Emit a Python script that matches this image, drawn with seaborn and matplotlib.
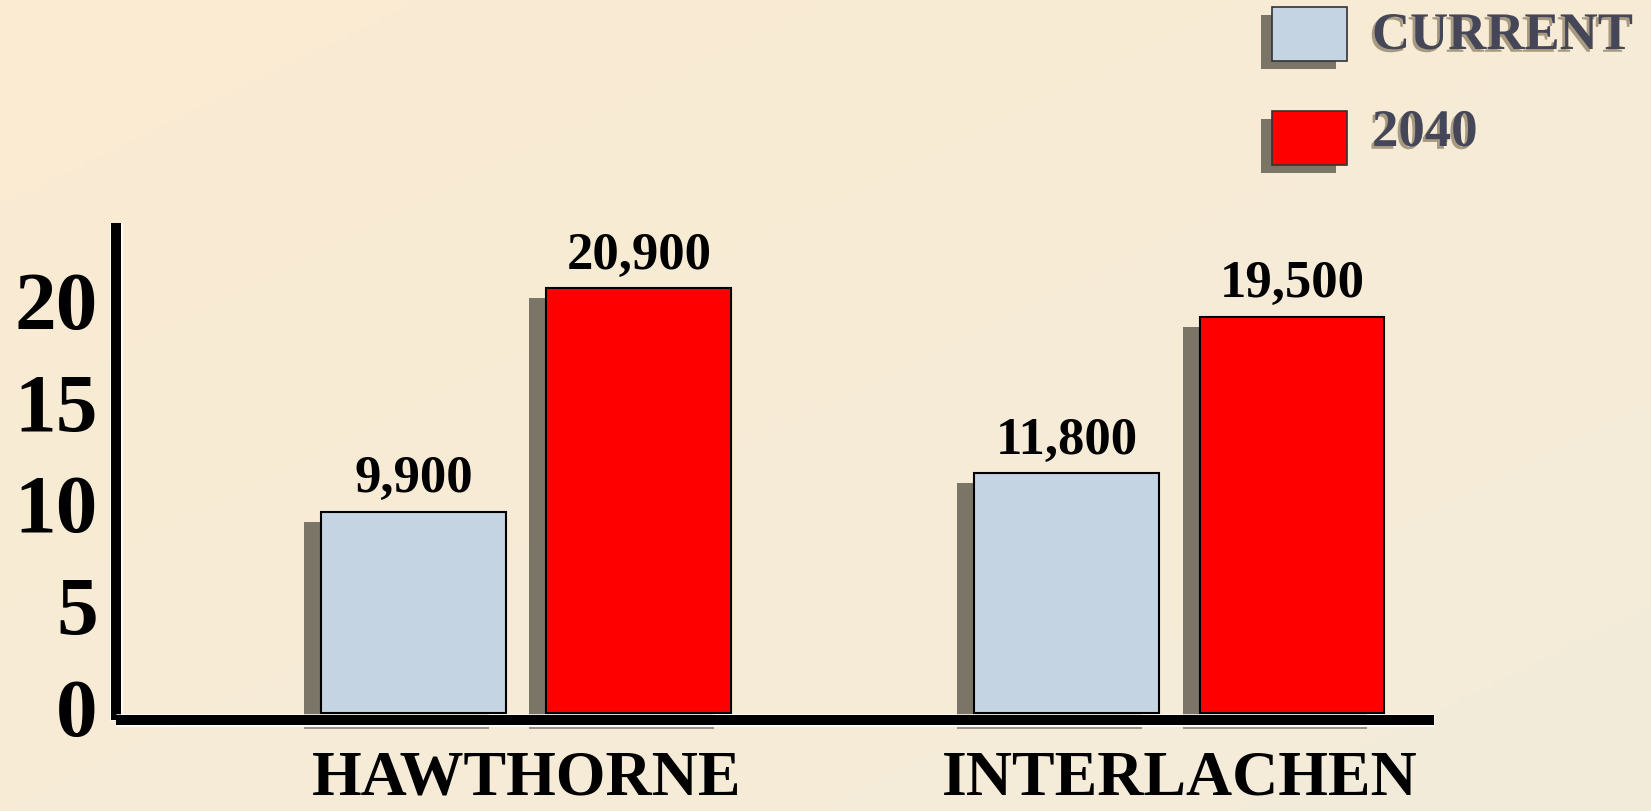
import numpy as np
import pandas as pd
import seaborn as sns
import matplotlib.pyplot as plt
import matplotlib.patheffects as pe
from matplotlib import transforms
from matplotlib.patches import Rectangle

# chart data (values are people, axis is in thousands)
sites = ["HAWTHORNE", "INTERLACHEN"]
periods = ["CURRENT", "2040"]
current_vals = [9900, 11800]
future_vals = [20900, 19500]
y_ticks = [0, 5, 10, 15, 20]

bar_colors = ["#C4D4E2", "#FF0000"]
shadow_color = "#7B7567"
W, H = 1651, 811

df = pd.DataFrame({
    "site": sites * 2,
    "period": [periods[0]] * len(sites) + [periods[1]] * len(sites),
    "value": current_vals + future_vals,
})
df["thousands"] = df["value"] / 1000

sns.set_theme(style="white")
plt.rcParams["font.family"] = ["Liberation Serif", "DejaVu Serif"]
plt.rcParams["font.weight"] = "bold"

fig = plt.figure(figsize=(W / 100, H / 100), dpi=100)

# soft cream gradient background
bg = fig.add_axes([0, 0, 1, 1], zorder=-10)
gx, gy = np.meshgrid(np.linspace(0, 1, 300), np.linspace(0, 1, 150))
t = (gx + gy) / 2
c0 = np.array([251, 236, 210]) / 255
c1 = np.array([243, 235, 218]) / 255
bg.imshow(c0 + (c1 - c0) * t[..., None], aspect="auto", extent=[0, 1, 0, 1], origin="upper")
bg.axis("off")

ax = fig.add_axes([116 / W, 1 - 719.5 / H, (1434 - 116) / W, (719.5 - 223) / H])
ax.set_facecolor("none")
sns.barplot(data=df, x="site", y="thousands", hue="period", order=sites, hue_order=periods,
            palette=bar_colors, saturation=1, width=0.69, gap=0.18,
            edgecolor="black", linewidth=1.5, legend=False, ax=ax)
ax.set_xlim(-0.628, 1.39)
ax.set_ylim(-0.32, 24.1)

# drop shadows behind bars
shadow_tr = transforms.offset_copy(ax.transData, fig=fig, x=-17, y=-10, units="dots")
sliver_tr = transforms.offset_copy(ax.transData, fig=fig, x=-17, y=-16, units="dots")
for cont, vals in zip(ax.containers, [current_vals, future_vals]):
    for bar, v in zip(cont, vals):
        x0, y0 = bar.get_xy()
        ax.add_patch(Rectangle((x0, y0), bar.get_width(), bar.get_height(), transform=shadow_tr,
                               facecolor=shadow_color, edgecolor="none", zorder=0.5, clip_on=False))
        # thin sliver of shadow that peeks out below the axis line
        ax.add_patch(Rectangle((x0, y0), bar.get_width(), 0.1, transform=sliver_tr,
                               facecolor="#9A9488", edgecolor="none", zorder=0.5, clip_on=False))
        ax.annotate(f"{v:,}", (x0 + bar.get_width() / 2, bar.get_height()),
                    xytext=(0, 14), textcoords="offset points", ha="center", va="baseline",
                    fontsize=38, fontweight="bold", color="black")

sns.despine(ax=ax)
for s in ["left", "bottom"]:
    ax.spines[s].set_color("black")
    ax.spines[s].set_linewidth(7.2)
    ax.spines[s].set_capstyle("butt")
    ax.spines[s].set_path_effects([pe.Stroke(linewidth=9, foreground="white"), pe.Normal()])
    ax.spines[s].set_zorder(3)

ax.set_yticks(y_ticks)
ax.set_yticklabels([str(v) for v in y_ticks])
ax.tick_params(axis="y", length=0, pad=13, labelsize=60, labelcolor="black")
ax.tick_params(axis="x", length=0, pad=22, labelsize=46, labelcolor="black")
ax.set_xlabel("")
ax.set_ylabel("")
up = transforms.ScaledTranslation(0, 6 / 100, fig.dpi_scale_trans)
for lab in ax.get_yticklabels():
    lab.set_transform(lab.get_transform() + up)

# legend drawn by hand, boxes with shadows
legend_tops = [7, 111]
text_centers = [36, 133]
for lab, col, top, ty in zip(periods, bar_colors, legend_tops, text_centers):
    fig.patches.append(Rectangle(((1272 - 11) / W, 1 - (top + 54 + 8) / H), 75 / W, 54 / H,
                                 transform=fig.transFigure, facecolor=shadow_color,
                                 edgecolor="none", zorder=1))
    fig.patches.append(Rectangle((1272 / W, 1 - (top + 54) / H), 75 / W, 54 / H,
                                 transform=fig.transFigure, facecolor=col,
                                 edgecolor="#333333", linewidth=1.2, zorder=2))
    fig.text(1372 / W, 1 - ty / H, lab, ha="left", va="center", fontsize=38,
             fontweight="bold", color="#454657",
             path_effects=[pe.withSimplePatchShadow(offset=(-2, -2), shadow_rgbFace="#A89A80", alpha=1)])

fig.savefig("out.png", dpi=100)
